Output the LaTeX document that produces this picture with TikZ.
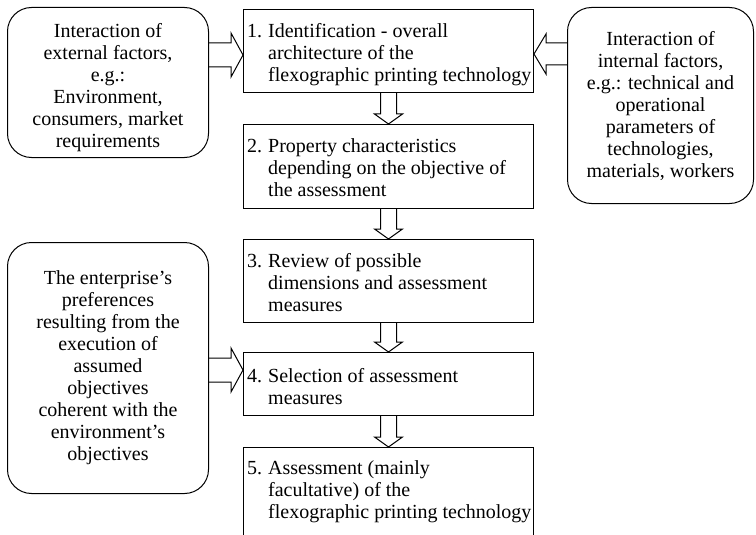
\documentclass[tikz,border=0pt]{standalone}
\usepackage{fontspec}
\setmainfont{Liberation Serif}
\usetikzlibrary{calc}

% numbered step text: label in a fixed slot, continuation lines indented to match
\newcommand\stepnum[1]{\makebox[21pt][l]{#1}}
\newcommand\stepind{\hspace*{21pt}}
\newcommand\steptext[1]{\begin{minipage}[t]{300pt}\raggedright #1\end{minipage}}

% hollow block arrows drawn from one named node to another
\newcommand\downblock[2]{%
  \draw[blockline] ($(#1.south)+(-8,0)$) -- ($(#2.north)+(-8,-10)$)
    -- ($(#2.north)+(-14,-10)$) -- (#2.north) -- ($(#2.north)+(14,-10)$)
    -- ($(#2.north)+(8,-10)$) -- ($(#1.south)+(8,0)$);}
\newcommand\rightblock[5]{%
  \draw[blockline] ($(#1.east |- #3)+(0,-#4)$) -- ($(#2.west |- #3)+(-12,-#4)$)
    -- ($(#2.west |- #3)+(-12,-#5)$) -- (#2.west |- #3) -- ($(#2.west |- #3)+(-12,#5)$)
    -- ($(#2.west |- #3)+(-12,#4)$) -- ($(#1.east |- #3)+(0,#4)$);}
\newcommand\leftblock[5]{%
  \draw[blockline] ($(#1.west |- #3)+(0,-#4)$) -- ($(#2.east |- #3)+(12,-#4)$)
    -- ($(#2.east |- #3)+(12,-#5)$) -- (#2.east |- #3) -- ($(#2.east |- #3)+(12,#5)$)
    -- ($(#2.east |- #3)+(12,#4)$) -- ($(#1.west |- #3)+(0,#4)$);}

\tikzset{
  stepbox/.style={draw, line width=1pt, rectangle, minimum width=290pt,
    minimum height=#1, anchor=north west, inner sep=0pt},
  steplabel/.style={anchor=base west, inner sep=0pt},
  sidebox/.style={draw, line width=1pt, rounded corners=24pt, align=center,
    inner sep=0pt, anchor=north west},
  blockline/.style={line width=1pt, line join=miter},
}

\begin{document}
\begin{tikzpicture}[x=1pt, y=-1pt, font=\fontsize{20}{22}\selectfont]
\useasboundingbox (0,0) rectangle (756,535);
\clip (0,0) rectangle (756,535);

% main column of steps
\node[stepbox=83pt]  (b1) at (243,9)   {};
\node[stepbox=84pt]  (b2) at (243,124) {};
\node[stepbox=83pt]  (b3) at (243,239) {};
\node[stepbox=63pt]  (b4) at (243,352) {};
\node[stepbox=110pt] (b5) at (243,447) {};

\node[steplabel] (t1) at ($(b1.north west)+(4,29)$) {\steptext{\stepnum{1.}Identification - overall\\
  \stepind architecture of the\\ \stepind flexographic printing technology}};
\node[steplabel] (t2) at ($(b2.north west)+(4,29)$) {\steptext{\stepnum{2.}Property characteristics\\
  \stepind depending on the objective of\\ \stepind the assessment}};
\node[steplabel] (t3) at ($(b3.north west)+(4,28)$) {\steptext{\stepnum{3.}Review of possible\\
  \stepind dimensions and assessment\\ \stepind measures}};
\node[steplabel] (t4) at ($(b4.north west)+(4,30)$) {\steptext{\stepnum{4.}Selection of assessment\\
  \stepind measures}};
\node[steplabel] (t5) at ($(b5.north west)+(4,27)$) {\steptext{\stepnum{5.}Assessment (mainly\\
  \stepind facultative) of the\\ \stepind flexographic printing technology}};

% side factors
\node[sidebox, minimum width=201pt, minimum height=150pt] (ext) at (7,7)
  {\rule{0pt}{24pt}Interaction of\\external factors,\\e.g.:\\Environment,\\consumers, market\\requirements};
\node[sidebox, minimum width=186pt, minimum height=196pt] (int) at (567,7)
  {Interaction of\\internal factors,\\e.g.: technical and\\operational\\parameters of\\technologies,\\materials, workers};
\node[sidebox, minimum width=201pt, minimum height=251pt] (pref) at (7,242)
  {The enterprise’s\\preferences\\resulting from the\\execution of\\assumed\\objectives\\coherent with the\\environment’s\\objectives};

% arrow levels
\coordinate (lvext) at (0,55);
\coordinate (lvint) at (0,54);
\coordinate (lvpref) at (0,370);

\downblock{b1}{b2}
\downblock{b2}{b3}
\downblock{b3}{b4}
\downblock{b4}{b5}
\rightblock{ext}{b1}{lvext}{12}{22}
\leftblock{int}{b1}{lvint}{11}{20}
\rightblock{pref}{b4}{lvpref}{12}{22}
\end{tikzpicture}
\end{document}
